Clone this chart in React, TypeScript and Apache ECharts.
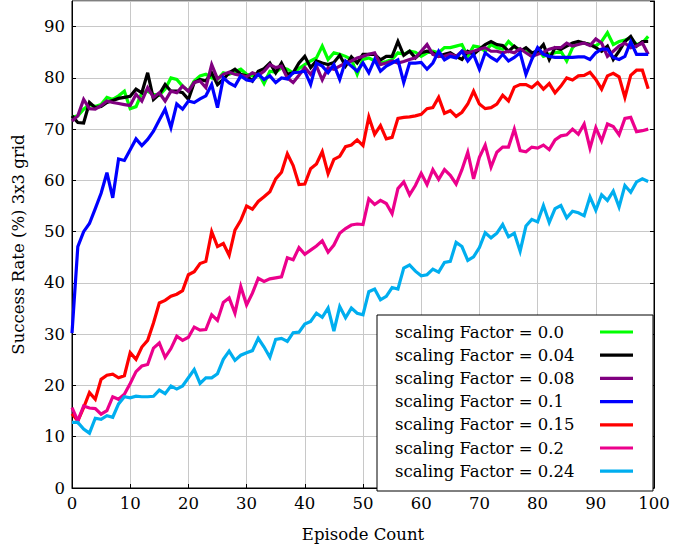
import React, { useEffect, useRef } from "react";
import * as echarts from "echarts";

const seriesNames = [
  "scaling Factor = 0.0",
  "scaling Factor = 0.04",
  "scaling Factor = 0.08",
  "scaling Factor = 0.1",
  "scaling Factor = 0.15",
  "scaling Factor = 0.2",
  "scaling Factor = 0.24",
];
const seriesColors = ["#00ff00", "#000000", "#800080", "#0000ff", "#ff0000", "#ec008c", "#00aeef"];

const f00 = [
  72.3, 72.6, 73.9, 74.8, 74.4, 74.8, 76.2, 75.8, 76.5, 77.4,
  74.0, 74.4, 77.1, 77.4, 76.8, 76.6, 77.8, 80.0, 79.7, 78.4,
  77.4, 79.4, 80.4, 80.7, 80.0, 79.7, 81.0, 80.7, 81.2, 81.7,
  80.7, 80.4, 81.0, 78.9, 81.3, 81.1, 82.0, 81.7, 81.0, 81.8,
  82.6, 83.3, 83.9, 86.2, 83.6, 84.9, 84.6, 84.2, 83.6, 80.7,
  83.6, 83.9, 83.3, 82.9, 83.2, 83.6, 84.9, 84.6, 85.2, 85.0,
  84.2, 84.9, 85.2, 84.9, 85.9, 85.9, 86.2, 86.5, 84.2, 86.2,
  86.0, 85.2, 86.5, 85.9, 85.6, 87.1, 86.0, 85.6, 85.2, 84.2,
  85.6, 84.2, 84.6, 84.9, 85.2, 83.3, 85.9, 86.9, 86.8, 86.5,
  86.2, 87.1, 88.8, 86.5, 87.1, 87.4, 87.8, 86.5, 86.8, 88.1,
];
const f004 = [
  72.6, 71.3, 71.2, 75.2, 74.2, 74.4, 75.2, 75.6, 76.0, 76.2,
  76.4, 77.8, 77.1, 81.0, 75.8, 76.8, 78.7, 77.4, 77.4, 77.1,
  75.8, 79.1, 79.7, 79.4, 81.0, 78.7, 79.7, 81.0, 81.7, 80.7,
  80.4, 79.4, 81.3, 81.8, 82.9, 81.0, 82.9, 80.7, 81.0, 82.9,
  84.2, 82.0, 83.3, 82.9, 82.6, 83.0, 84.4, 82.3, 84.1, 82.9,
  84.6, 84.6, 84.6, 83.5, 84.2, 84.2, 87.1, 84.4, 85.2, 83.9,
  84.9, 85.2, 84.9, 84.2, 84.6, 84.9, 84.2, 83.6, 85.2, 84.6,
  85.6, 86.5, 87.1, 86.5, 86.3, 85.2, 86.2, 85.2, 85.9, 84.9,
  85.2, 86.5, 83.6, 85.9, 85.6, 86.2, 86.8, 87.1, 86.8, 86.5,
  85.9, 85.2, 86.2, 83.6, 85.2, 87.1, 88.1, 86.2, 87.1, 87.1,
];
const f008 = [
  71.6, 72.6, 75.8, 74.0, 73.9, 74.6, 75.5, 75.2, 75.0, 74.8,
  74.6, 76.8, 75.5, 78.1, 76.2, 77.1, 75.5, 77.4, 77.1, 78.4,
  77.4, 79.1, 79.4, 78.1, 82.6, 79.8, 80.7, 81.1, 80.7, 80.5,
  80.2, 81.0, 80.5, 81.3, 82.6, 82.0, 82.3, 80.0, 79.1, 80.5,
  82.0, 80.7, 82.3, 79.6, 82.0, 81.7, 82.3, 82.9, 83.3, 83.9,
  84.2, 84.6, 84.9, 82.6, 82.9, 83.3, 82.9, 83.2, 83.6, 83.9,
  85.2, 86.5, 84.6, 84.2, 84.2, 84.6, 84.2, 85.2, 84.9, 85.2,
  85.6, 85.9, 85.2, 85.2, 84.9, 85.2, 84.9, 85.7, 84.9, 84.2,
  84.6, 85.0, 85.6, 85.9, 85.9, 86.8, 86.2, 86.5, 86.8, 86.3,
  87.6, 86.8, 84.2, 85.2, 86.2, 86.8, 85.9, 86.2, 86.8, 84.6,
];
const f01 = [
  30.2, 47.1, 50.0, 51.6, 54.5, 57.5, 61.5, 56.6, 64.2, 63.9,
  66.0, 68.1, 66.8, 68.0, 69.6, 71.8, 73.9, 70.3, 74.9, 73.9,
  75.5, 75.2, 75.9, 76.5, 78.7, 74.2, 80.0, 79.0, 78.4, 80.4,
  79.6, 79.4, 80.7, 79.7, 80.4, 79.1, 80.0, 79.8, 81.0, 81.1,
  81.3, 78.7, 82.9, 82.3, 81.0, 82.6, 79.7, 83.3, 82.3, 81.3,
  82.9, 81.0, 83.6, 81.3, 82.3, 82.9, 83.5, 79.1, 82.9, 82.9,
  83.0, 81.7, 82.9, 85.2, 83.5, 84.2, 83.9, 85.2, 83.3, 84.6,
  81.7, 84.9, 84.0, 83.3, 84.6, 83.3, 84.0, 84.9, 80.7, 83.6,
  85.9, 84.6, 84.2, 84.0, 84.0, 84.0, 84.0, 84.1, 84.1, 83.6,
  84.9, 85.6, 85.6, 84.0, 83.6, 84.2, 87.1, 84.6, 84.6, 84.6,
];
const f015 = [
  14.5, 13.1, 15.7, 18.6, 17.3, 21.2, 22.0, 22.2, 21.5, 21.9,
  26.4, 25.1, 27.5, 28.8, 32.2, 36.1, 36.6, 37.4, 37.8, 38.5,
  41.6, 42.2, 43.8, 44.2, 50.0, 47.1, 47.7, 45.4, 50.3, 52.2,
  55.0, 54.4, 55.9, 56.8, 57.8, 60.3, 61.6, 65.2, 62.9, 59.2,
  59.3, 62.3, 63.2, 65.6, 61.3, 64.1, 64.7, 66.6, 66.9, 67.9,
  66.8, 72.4, 69.0, 70.7, 68.1, 68.4, 72.1, 72.3, 72.4, 72.6,
  72.9, 74.0, 74.2, 76.2, 73.1, 73.6, 72.5, 73.3, 74.9, 77.4,
  74.9, 74.0, 74.2, 74.9, 76.6, 75.5, 78.2, 78.7, 78.7, 78.1,
  79.1, 77.8, 78.9, 77.1, 78.4, 80.0, 79.6, 80.4, 80.5, 81.1,
  79.7, 77.8, 80.4, 80.9, 80.2, 76.2, 80.5, 81.5, 81.5, 77.9,
];
const f02 = [
  15.7, 13.1, 16.0, 15.6, 15.5, 14.4, 15.1, 17.8, 17.3, 18.3,
  20.4, 22.7, 23.8, 24.1, 27.3, 28.3, 25.5, 27.2, 29.6, 28.8,
  29.4, 31.4, 30.8, 30.9, 33.8, 32.7, 36.2, 37.1, 34.1, 39.3,
  35.7, 38.0, 40.9, 40.3, 40.8, 41.0, 41.2, 44.9, 44.5, 46.9,
  45.6, 46.4, 47.2, 48.2, 46.0, 47.4, 49.7, 50.6, 51.3, 51.5,
  51.4, 56.4, 55.3, 56.1, 55.5, 53.5, 58.4, 59.7, 57.2, 59.0,
  61.4, 59.2, 62.1, 60.2, 62.1, 61.0, 59.3, 62.1, 65.5, 60.3,
  64.5, 66.9, 62.6, 65.5, 66.5, 66.5, 70.0, 65.8, 65.6, 66.5,
  66.3, 66.9, 66.0, 67.9, 68.7, 68.9, 70.0, 69.0, 71.0, 66.3,
  70.3, 67.7, 71.0, 70.5, 68.9, 72.1, 72.3, 69.5, 69.7, 70.0,
];
const f024 = [
  12.8, 12.8, 11.5, 10.7, 13.6, 13.4, 14.1, 13.8, 16.4, 17.8,
  17.6, 17.9, 17.8, 17.8, 17.9, 19.1, 18.4, 19.9, 19.3, 19.9,
  21.5, 23.1, 20.4, 21.5, 21.5, 22.3, 25.1, 26.7, 24.9, 25.9,
  26.4, 26.8, 29.2, 27.5, 25.5, 29.0, 29.2, 28.6, 30.3, 30.4,
  32.0, 32.5, 34.1, 33.3, 35.1, 30.6, 35.4, 33.2, 35.1, 34.1,
  33.8, 38.3, 38.8, 36.7, 37.4, 39.1, 38.8, 42.9, 43.5, 42.3,
  41.4, 41.6, 42.7, 42.1, 44.0, 44.2, 47.9, 47.1, 44.4, 45.1,
  46.9, 49.8, 48.8, 49.7, 51.4, 49.0, 49.7, 46.2, 51.1, 52.4,
  51.9, 55.1, 51.8, 54.5, 55.1, 52.7, 54.0, 53.7, 53.1, 56.8,
  54.2, 57.2, 56.1, 57.9, 54.8, 59.0, 57.7, 59.7, 60.3, 59.8,
];
const allValues = [f00, f004, f008, f01, f015, f02, f024];

const xTicks = [0, 10, 20, 30, 40, 50, 60, 70, 80, 90, 100];
const yTicks = [0, 10, 20, 30, 40, 50, 60, 70, 80, 90];

const FONT = "DejaVu Serif";

export default function App() {
  const ref = useRef<HTMLDivElement>(null);
  useEffect(() => {
    if (!ref.current) return;
    const chart = echarts.init(ref.current, null, { renderer: "svg" });
    const series = allValues.map((vals, k) => ({
      name: seriesNames[k],
      type: "line",
      data: vals.map((v, i) => [i, v]),
      showSymbol: false,
      symbol: "none",
      lineStyle: { color: seriesColors[k], width: 3.2, join: "miter" },
      itemStyle: { color: seriesColors[k] },
      z: 2 + k,
    }));
    const legendTop = 332;
    const legendStep = 23.2;
    const legendGraphics: any[] = [
      {
        type: "rect",
        z: 100,
        shape: { x: 377, y: 315, width: 276, height: 176 },
        style: { fill: "#ffffff", stroke: "#000000", lineWidth: 1 },
      },
    ];
    seriesNames.forEach((n, k) => {
      legendGraphics.push({
        type: "text",
        z: 101,
        x: 395,
        y: legendTop + k * legendStep,
        style: {
          text: n,
          font: `16.5px "${FONT}"`,
          fill: "#000",
          verticalAlign: "middle",
          align: "left",
        },
      });
      legendGraphics.push({
        type: "line",
        z: 101,
        shape: { x1: 600, y1: legendTop + k * legendStep, x2: 633, y2: legendTop + k * legendStep },
        style: { stroke: seriesColors[k], lineWidth: 3.2 },
      });
    });
    chart.setOption({
      animation: false,
      backgroundColor: "#ffffff",
      grid: {
        left: 72,
        right: 40,
        top: 1,
        bottom: 57,
        show: true,
        borderColor: "#000",
        borderWidth: 1,
      },
      xAxis: {
        type: "value",
        min: xTicks[0],
        max: xTicks[xTicks.length - 1],
        interval: 10,
        name: "Episode Count",
        nameLocation: "middle",
        nameGap: 38,
        nameTextStyle: { fontFamily: FONT, fontSize: 16.5, color: "#000" },
        axisLine: { show: true, lineStyle: { color: "#000", width: 1 } },
        axisTick: { show: true, inside: true, length: 4, lineStyle: { color: "#000" } },
        axisLabel: { fontFamily: FONT, fontSize: 16.5, color: "#000", margin: 7 },
        splitLine: { show: true, lineStyle: { color: "#c8c8c8", width: 1 } },
      },
      yAxis: [
        {
          type: "value",
          min: 0,
          max: 95,
          interval: 10,
          name: "Success Rate (%) 3x3 grid",
          nameLocation: "middle",
          nameGap: 45,
          nameTextStyle: { fontFamily: FONT, fontSize: 16.5, color: "#000" },
          axisLine: { show: true, lineStyle: { color: "#000", width: 1 } },
          axisTick: { show: true, inside: true, length: 4, lineStyle: { color: "#000" } },
          axisLabel: {
            fontFamily: FONT,
            fontSize: 16.5,
            color: "#000",
            margin: 7,
            showMaxLabel: false,
            formatter: (v: number) => (yTicks.includes(v) ? String(v) : ""),
          },
          splitLine: { show: true, lineStyle: { color: "#c8c8c8", width: 1 } },
        },
        {
          type: "value",
          min: 0,
          max: 95,
          interval: 10,
          position: "right",
          axisLine: { show: true, lineStyle: { color: "#000", width: 1 } },
          axisTick: { show: true, inside: true, length: 4, lineStyle: { color: "#000" } },
          axisLabel: { show: false },
          splitLine: { show: false },
        },
      ],
      series,
      graphic: legendGraphics,
    });
    return () => chart.dispose();
  }, []);
  return <div ref={ref} style={{ width: 694, height: 548, position: "absolute", left: 0, top: 0 }} />;
}
